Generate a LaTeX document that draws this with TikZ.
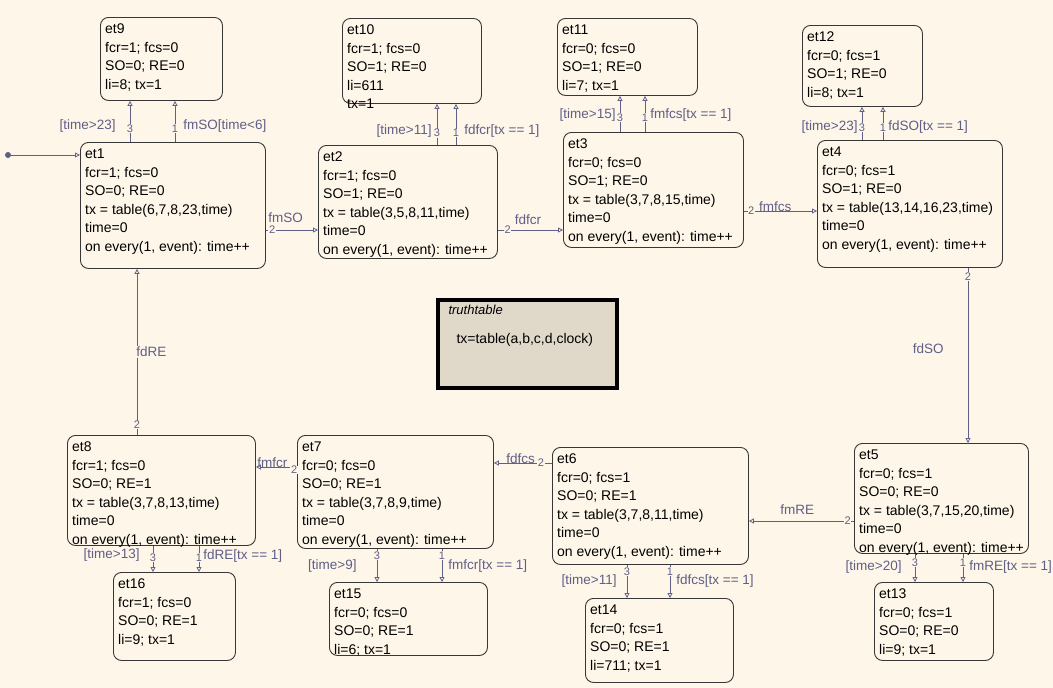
\documentclass[tikz,border=0pt]{standalone}
\usepackage{fontspec}
\setmainfont{Liberation Sans}
\usepackage{xcolor}
\usepackage{tikz}
\usetikzlibrary{arrows.meta,calc}
\definecolor{Fondo}{RGB}{254,246,232}
\definecolor{BordeEstado}{RGB}{55,55,55}
\definecolor{AzulTrans}{RGB}{95,95,135}
\definecolor{FondoTabla}{RGB}{224,216,200}

\begin{document}
\begin{tikzpicture}[x=1pt,y=-1pt,
  estado/.style={draw=BordeEstado,line width=0.9pt,rounded corners=8pt,anchor=north west,inner sep=0pt},
  texto/.style={anchor=north west,align=left,inner xsep=5pt,inner ysep=7pt,font=\fontsize{14}{18.5}\selectfont},
  trans/.style={draw=AzulTrans,line width=0.8pt,-{Triangle[open,length=5pt,width=5pt]}},
  etiq/.style={text=AzulTrans,font=\fontsize{13.5}{16}\selectfont,inner sep=1pt},
  num/.style={text=AzulTrans,font=\fontsize{11}{12}\selectfont,fill=Fondo,inner sep=0.6pt}]
  \fill[Fondo] (0,0) rectangle (1053,688);
  \useasboundingbox (0,0) rectangle (1053,688);

  \node[estado,minimum width=122pt,minimum height=83pt] (et9) at (100,17) {};
  \node[texto] (et9t) at (et9.north west) {et9\\fcr=1; fcs=0\\SO=0; RE=0\\li=8; tx=1};
  \node[estado,minimum width=139pt,minimum height=85pt] (et10) at (342,18) {};
  \node[texto] (et10t) at (et10.north west) {et10\\fcr=1; fcs=0\\SO=1; RE=0\\li=611\\tx=1};
  \node[estado,minimum width=140pt,minimum height=77pt] (et11) at (557,18) {};
  \node[texto] (et11t) at (et11.north west) {et11\\fcr=0; fcs=0\\SO=1; RE=0\\li=7; tx=1};
  \node[estado,minimum width=120pt,minimum height=81pt] (et12) at (802,25) {};
  \node[texto] (et12t) at (et12.north west) {et12\\fcr=0; fcs=1\\SO=1; RE=0\\li=8; tx=1};

  \node[estado,minimum width=185pt,minimum height=126pt] (et1) at (80,142) {};
  \node[texto] (et1t) at (et1.north west) {et1\\fcr=1; fcs=0\\SO=0; RE=0\\tx = table(6,7,8,23,time)\\time=0\\on every(1, event): time++};
  \node[estado,minimum width=179pt,minimum height=113pt] (et2) at (318,145) {};
  \node[texto] (et2t) at (et2.north west) {et2\\fcr=1; fcs=0\\SO=1; RE=0\\tx = table(3,5,8,11,time)\\time=0\\on every(1, event): time++};
  \node[estado,minimum width=180pt,minimum height=115pt] (et3) at (563,132) {};
  \node[texto] (et3t) at (et3.north west) {et3\\fcr=0; fcs=0\\SO=1; RE=0\\tx = table(3,7,8,15,time)\\time=0\\on every(1, event): time++};
  \node[estado,minimum width=185pt,minimum height=127pt] (et4) at (817,140) {};
  \node[texto] (et4t) at (et4.north west) {et4\\fcr=0; fcs=1\\SO=1; RE=0\\tx = table(13,14,16,23,time)\\time=0\\on every(1, event): time++};

  \node[draw=black,line width=3.5pt,fill=FondoTabla,anchor=north west,minimum width=179pt,minimum height=88pt] (tabla) at (436,298) {};
  \node[anchor=west,font=\fontsize{13}{15}\selectfont\itshape] (tablat) at ([xshift=9pt,yshift=-12pt]tabla.north west) {truthtable};
  \node[anchor=west,font=\fontsize{14}{16}\selectfont] (tablax) at ([xshift=17pt,yshift=-42pt]tabla.north west) {tx=table(a,b,c,d,clock)};

  \node[estado,minimum width=188pt,minimum height=110pt] (et8) at (67,435) {};
  \node[texto] (et8t) at (et8.north west) {et8\\fcr=1; fcs=0\\SO=0; RE=1\\tx = table(3,7,8,13,time)\\time=0\\on every(1, event): time++};
  \node[estado,minimum width=196pt,minimum height=113pt] (et7) at (297,435) {};
  \node[texto] (et7t) at (et7.north west) {et7\\fcr=0; fcs=0\\SO=0; RE=1\\tx = table(3,7,8,9,time)\\time=0\\on every(1, event): time++};
  \node[estado,minimum width=196pt,minimum height=117pt] (et6) at (552,447) {};
  \node[texto] (et6t) at (et6.north west) {et6\\fcr=0; fcs=1\\SO=0; RE=1\\tx = table(3,7,8,11,time)\\time=0\\on every(1, event): time++};
  \node[estado,minimum width=174pt,minimum height=110pt] (et5) at (854,443) {};
  \node[texto] (et5t) at (et5.north west) {et5\\fcr=0; fcs=1\\SO=0; RE=0\\tx = table(3,7,15,20,time)\\time=0\\on every(1, event): time++};

  \node[estado,minimum width=122pt,minimum height=88pt] (et16) at (113,572) {};
  \node[texto] (et16t) at (et16.north west) {et16\\fcr=1; fcs=0\\SO=0; RE=1\\li=9; tx=1};
  \node[estado,minimum width=158pt,minimum height=73pt] (et15) at (329,582) {};
  \node[texto] (et15t) at (et15.north west) {et15\\fcr=0; fcs=0\\SO=0; RE=1\\li=6; tx=1};
  \node[estado,minimum width=148pt,minimum height=84pt] (et14) at (585,598) {};
  \node[texto] (et14t) at (et14.north west) {et14\\fcr=0; fcs=1\\SO=0; RE=1\\li=711; tx=1};
  \node[estado,minimum width=119pt,minimum height=78pt] (et13) at (874,582) {};
  \node[texto] (et13t) at (et13.north west) {et13\\fcr=0; fcs=1\\SO=0; RE=0\\li=9; tx=1};

  \coordinate (inicio) at (8,155);
  \fill[AzulTrans] (inicio) circle (3pt);
  \draw[trans] (inicio) -- (inicio -| et1.west);

  \draw[trans] ([xshift=50pt]et1.north west) -- ([xshift=50pt]et1.north west |- et9.south)
    node[num,pos=.33] {3} node[etiq,pos=.4,anchor=east,xshift=-13pt] {[time>23]};
  \draw[trans] ([xshift=95pt]et1.north west) -- ([xshift=95pt]et1.north west |- et9.south)
    node[num,pos=.33] {1} node[etiq,pos=.4,anchor=west,xshift=7pt] {fmSO[time<6]};
  \draw[trans] ([xshift=119pt]et2.north west) -- ([xshift=119pt]et2.north west |- et10.south)
    node[num,pos=.29] {3} node[etiq,pos=.33,anchor=east,xshift=-4pt] {[time>11]};
  \draw[trans] ([xshift=138pt]et2.north west) -- ([xshift=138pt]et2.north west |- et10.south)
    node[num,pos=.29] {1} node[etiq,pos=.33,anchor=west,xshift=7pt] {fdfcr[tx == 1]};
  \draw[trans] ([xshift=57pt]et3.north west) -- ([xshift=57pt]et3.north west |- et11.south)
    node[num,pos=.4] {3} node[etiq,pos=.46,anchor=east,xshift=-3pt] {[time>15]};
  \draw[trans] ([xshift=82pt]et3.north west) -- ([xshift=82pt]et3.north west |- et11.south)
    node[num,pos=.4] {1} node[etiq,pos=.46,anchor=west,xshift=4pt] {fmfcs[tx == 1]};
  \draw[trans] ([xshift=45pt]et4.north west) -- ([xshift=45pt]et4.north west |- et12.south)
    node[num,pos=.38] {3} node[etiq,pos=.38,anchor=east,xshift=-3pt] {[time>23]};
  \draw[trans] ([xshift=66pt]et4.north west) -- ([xshift=66pt]et4.north west |- et12.south)
    node[num,pos=.38] {1} node[etiq,pos=.38,anchor=west,xshift=4pt] {fdSO[tx == 1]};

  \draw[trans] ([xshift=86pt]et8.south west) -- ([xshift=86pt]et8.south west |- et16.north)
    node[num,pos=.44] {3} node[etiq,pos=.35,anchor=east,xshift=-12pt] {[time>13]};
  \draw[trans] ([xshift=132pt]et8.south west) -- ([xshift=132pt]et8.south west |- et16.north)
    node[num,pos=.44] {1} node[etiq,pos=.4,anchor=west,xshift=3pt] {fdRE[tx == 1]};
  \draw[trans] ([xshift=80pt]et7.south west) -- ([xshift=80pt]et7.south west |- et15.north)
    node[num,pos=.2] {3} node[etiq,pos=.53,anchor=east,xshift=-19pt] {[time>9]};
  \draw[trans] ([xshift=145pt]et7.south west) -- ([xshift=145pt]et7.south west |- et15.north)
    node[num,pos=.2] {1} node[etiq,pos=.53,anchor=west,xshift=5pt] {fmfcr[tx == 1]};
  \draw[trans] ([xshift=75pt]et6.south west) -- ([xshift=75pt]et6.south west |- et14.north)
    node[num,pos=.2] {3} node[etiq,pos=.5,anchor=east,xshift=-9pt] {[time>11]};
  \draw[trans] ([xshift=118pt]et6.south west) -- ([xshift=118pt]et6.south west |- et14.north)
    node[num,pos=.2] {1} node[etiq,pos=.5,anchor=west,xshift=5pt] {fdfcs[tx == 1]};
  \draw[trans] ([xshift=61pt]et5.south west) -- ([xshift=61pt]et5.south west |- et13.north)
    node[num,pos=.3] {3} node[etiq,pos=.45,anchor=east,xshift=-12pt] {[time>20]};
  \draw[trans] ([xshift=109pt]et5.south west) -- ([xshift=109pt]et5.south west |- et13.north)
    node[num,pos=.3] {1} node[etiq,pos=.45,anchor=west,xshift=5pt] {fmRE[tx == 1]};

  \draw[trans] ([yshift=-88pt]et1.north east) -- ([yshift=-88pt]et1.north east -| et2.west)
    node[num,pos=.12] {2} node[etiq,pos=.02,anchor=south west,yshift=6pt] {fmSO};
  \draw[trans] ([yshift=-85pt]et2.north east) -- ([yshift=-85pt]et2.north east -| et3.west)
    node[num,pos=.15] {2} node[etiq,pos=.24,anchor=south west,yshift=4pt] {fdfcr};
  \draw[trans] ([yshift=-79pt]et3.north east) -- ([yshift=-79pt]et3.north east -| et4.west)
    node[num,pos=.1] {2} node[etiq,pos=.19,anchor=base west] {fmfcs};
  \draw[trans] ([xshift=151pt]et4.south west) -- ([xshift=151pt]et4.south west |- et5.north)
    node[num,pos=.05] {2} node[etiq,pos=.46,anchor=east,xshift=-23pt] {fdSO};
  \draw[trans] ([yshift=-78pt]et5.north west) -- ([yshift=-78pt]et5.north west -| et6.east)
    node[num,pos=.06] {2} node[etiq,pos=.54,anchor=south,yshift=5pt] {fmRE};
  \draw[trans] ([yshift=-16pt]et6.north west) -- ([yshift=-16pt]et6.north west -| et7.east)
    node[num,pos=.19] {2} node[etiq,pos=.27,anchor=base east] {fdfcs};
  \draw[trans] ([yshift=-32pt]et7.north west) -- ([yshift=-32pt]et7.north west -| et8.east)
    node[num,pos=.07,yshift=-3pt] {2} node[etiq,pos=.2,anchor=base east] {fmfcr};
  \draw[trans] ([xshift=70pt]et8.north west) -- ([xshift=70pt]et8.north west |- et1.south)
    node[num,pos=.06] {2} node[etiq,pos=.5,anchor=west,xshift=-2pt,fill=Fondo] {fdRE};
\end{tikzpicture}
\end{document}
